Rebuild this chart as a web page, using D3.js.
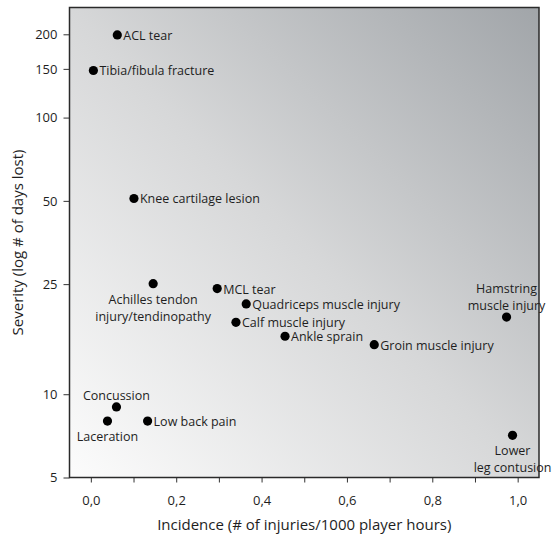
<!DOCTYPE html>
<html>
<head>
<meta charset="utf-8">
<script src="https://cdn.jsdelivr.net/npm/d3@7"></script>
<style>
  html, body { margin: 0; padding: 0; background: #fff; }
  svg text { font-family: "Open Sans", Lato, sans-serif; fill: #1e1e1e; }
</style>
</head>
<body>
<svg id="chart" width="552" height="539"></svg>
<script>
// Injury types, incidence per 1000 player hours and severity (days lost)
const injuries = ["ACL tear", "Tibia/fibula fracture", "Knee cartilage lesion",
  "Achilles tendon injury/tendinopathy", "MCL tear", "Quadriceps muscle injury",
  "Calf muscle injury", "Ankle sprain", "Groin muscle injury",
  "Hamstring muscle injury", "Lower leg contusion", "Concussion",
  "Laceration", "Low back pain"];
const incidence = [0.062, 0.006, 0.101, 0.146, 0.296, 0.364, 0.340, 0.455, 0.664,
  0.974, 0.988, 0.060, 0.039, 0.133];
const severity = [199, 148, 51, 25.1, 24.1, 21.2, 18.2, 16.2, 15.1, 19.0, 7.1, 9.0, 8.0, 8.0];
// Label text lines and where each label sits relative to its dot
const labelLines = [["ACL tear"], ["Tibia/fibula fracture"], ["Knee cartilage lesion"],
  ["Achilles tendon", "injury/tendinopathy"], ["MCL tear"], ["Quadriceps muscle injury"],
  ["Calf muscle injury"], ["Ankle sprain"], ["Groin muscle injury"],
  ["Hamstring", "muscle injury"], ["Lower", "leg contusion"], ["Concussion"],
  ["Laceration"], ["Low back pain"]];
const labelSide = ["right", "right", "right", "below", "right", "right", "right", "right",
  "right", "above", "below", "above", "below", "right"];

const yTicks = [5, 10, 25, 50, 100, 150, 200];
const xTicks = [0, 0.2, 0.4, 0.6, 0.8, 1.0];
const xMinorTicks = [0.1, 0.3, 0.5, 0.7, 0.9];
const xTitle = "Incidence (# of injuries/1000 player hours)";
const yTitle = "Severity (log # of days lost)";

const W = 552, H = 539;
const margin = { top: 7.5, right: 13, bottom: 61.5, left: 69.5 };
const pw = W - margin.left - margin.right;
const ph = H - margin.top - margin.bottom;

const svg = d3.select("#chart");
const defs = svg.append("defs");
const grad = defs.append("linearGradient")
  .attr("id", "bg").attr("x1", "0").attr("y1", "1").attr("x2", "1").attr("y2", "0");
grad.append("stop").attr("offset", "0").attr("stop-color", "#fcfcfc");
grad.append("stop").attr("offset", "0.5").attr("stop-color", "#d6d7d8");
grad.append("stop").attr("offset", "1").attr("stop-color", "#a1a5a9");

const x = d3.scaleLinear().domain([-0.05, 1.05]).range([0, pw]);
const y = d3.scaleLog().domain([5, 250]).range([ph, 0]);

const g = svg.append("g").attr("transform", `translate(${margin.left},${margin.top})`);

g.append("rect").attr("width", pw).attr("height", ph).attr("fill", "url(#bg)");

// Axes
const fmtComma = d => d3.format(".1f")(d).replace(".", ",");
const xAxis = g.append("g").attr("transform", `translate(0,${ph})`)
  .call(d3.axisBottom(x).tickValues(xTicks).tickFormat(fmtComma).tickSize(5).tickPadding(13));
const xMinor = g.append("g").attr("transform", `translate(0,${ph})`)
  .call(d3.axisBottom(x).tickValues(xMinorTicks).tickFormat("").tickSize(5));
const yAxis = g.append("g")
  .call(d3.axisLeft(y).tickValues(yTicks).tickFormat(d3.format("d")).tickSize(6).tickPadding(6));
[xAxis, xMinor, yAxis].forEach(a => {
  a.select(".domain").remove();
  a.selectAll(".tick line").attr("stroke", "#333").attr("stroke-width", 1);
  a.selectAll(".tick text").style("font-size", "13px").attr("fill", "#1e1e1e");
});

// Plot frame
g.append("rect").attr("width", pw).attr("height", ph)
  .attr("fill", "none").attr("stroke", "#2a2a2a").attr("stroke-width", 1.5);

// Dots
const data = injuries.map((name, i) => ({
  name, x: incidence[i], y: severity[i], lines: labelLines[i], side: labelSide[i]
}));

g.selectAll("circle.pt").data(data).join("circle")
  .attr("class", "pt")
  .attr("cx", d => x(d.x)).attr("cy", d => y(d.y)).attr("r", 4.6)
  .attr("fill", "#000");

// Labels
const lineH = 17;
const labels = g.selectAll("text.lbl").data(data).join("text")
  .attr("class", "lbl")
  .style("font-size", "12.5px")
  .attr("x", d => d.side === "right" ? x(d.x) + 6 : x(d.x))
  .attr("y", d => {
    const cy = y(d.y);
    if (d.side === "right") return cy;
    if (d.side === "below") return cy + 15;
    return cy - 12 - (d.lines.length - 1) * lineH;
  })
  .attr("text-anchor", d => d.side === "right" ? "start" : "middle")
  .attr("dominant-baseline", "central");
labels.each(function(d) {
  const t = d3.select(this);
  d.lines.forEach((ln, k) => {
    t.append("tspan").attr("x", d.side === "right" ? x(d.x) + 6 : x(d.x))
      .attr("dy", k === 0 ? 0 : lineH).text(ln);
  });
});

// Axis titles
svg.append("text")
  .attr("x", margin.left + pw / 2).attr("y", H - 9)
  .attr("text-anchor", "middle").style("font-size", "15px")
  .text(xTitle);
svg.append("text")
  .attr("transform", `translate(23,${margin.top + ph / 2}) rotate(-90)`)
  .attr("text-anchor", "middle").style("font-size", "15px")
  .text(yTitle);
</script>
</body>
</html>
